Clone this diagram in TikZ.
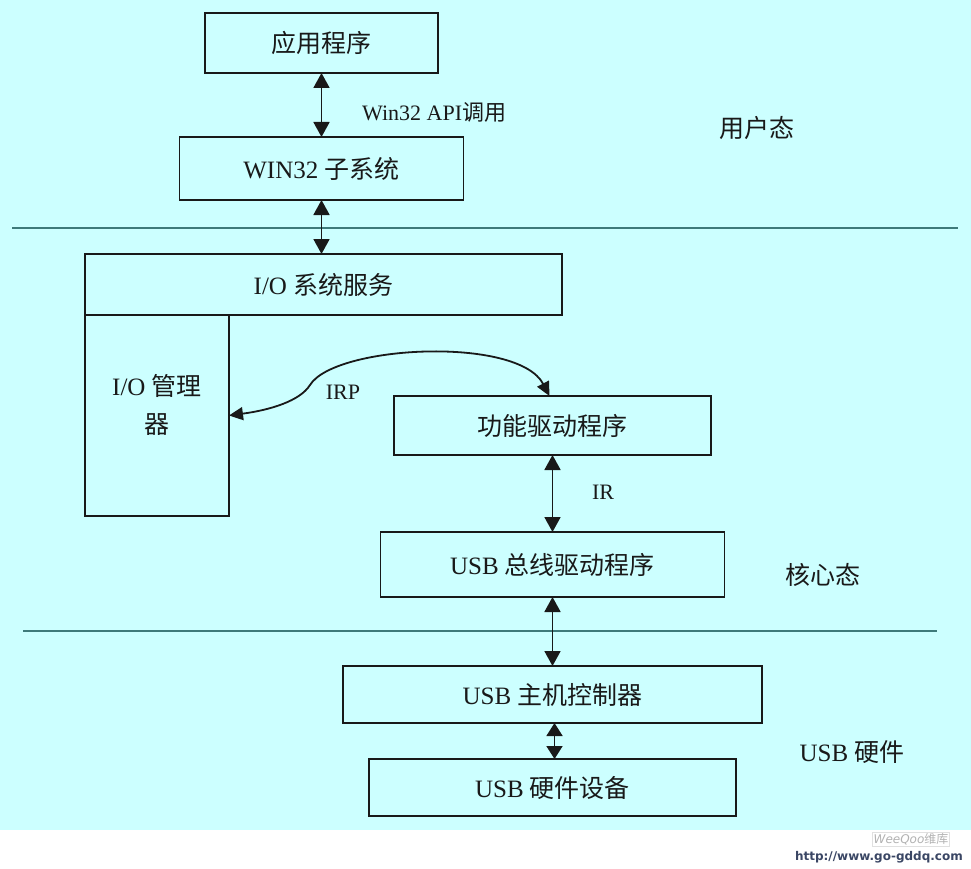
\documentclass[tikz,border=0pt]{standalone}
\usepackage{fontspec}
\setmainfont{Liberation Serif}
\newfontfamily\cjk{Noto Sans CJK SC}
\newfontfamily\wmfont{DejaVu Sans}
\usetikzlibrary{arrows.meta, positioning}
\definecolor{bgcyan}{RGB}{204,255,255}
\definecolor{sepgray}{RGB}{62,122,122}
\definecolor{urlblue}{RGB}{58,70,100}

\begin{document}
\begin{tikzpicture}[
    x=1pt, y=-1pt,
    blk/.style={rectangle, draw=black!90, line width=1.4pt, inner sep=0pt, outer sep=0pt, text=black!90, font=\fontsize{25}{38}\selectfont},
    lbl/.style={inner sep=0pt, text=black!90, font=\fontsize{22}{26}\selectfont},
    side/.style={inner sep=0pt, text=black!90, font=\fontsize{25}{30}\selectfont},
    arrow/.style={{Triangle[length=15pt,width=16pt]}-{Triangle[length=15pt,width=16pt]}, line width=1.8pt, color=black!90},
    sep/.style={line width=2.4pt, color=sepgray},
]
% page and background
\useasboundingbox (0,0) rectangle (971,869);
\fill[white] (0,0) rectangle (971,869);
\fill[bgcyan] (0,0) rectangle (971,830);

% user mode
\node[blk, minimum width=233pt, minimum height=60pt] (app) at (321.5,43) {\cjk 应用程序};
\node[blk, minimum width=284pt, minimum height=63pt, below=64pt of app] (win) {WIN32 {\cjk 子系统}};
\node[lbl, anchor=west] (apilbl) at (362,112) {Win32 API{\cjk 调用}};
\node[side] (user) at (757,128) {\cjk 用户态};
\draw[sep] (12,228) -- (958,228);

% kernel mode
\node[blk, minimum width=477pt, minimum height=61pt] (iosvc) at (323.5,284.5) {I/O {\cjk 系统服务}};
\node[blk, minimum width=144pt, minimum height=201pt, below right=0pt and 0pt of iosvc.south west,
      label={[side, align=center, font=\fontsize{25}{38}\selectfont, yshift=11pt]center:I/O {\cjk 管理}\\{\cjk 器}}] (iomgr) {};
\node[blk, minimum width=317pt, minimum height=59pt] (fdrv) at (552.5,425.5) {\cjk 功能驱动程序};
\node[blk, minimum width=344pt, minimum height=65pt, below=77pt of fdrv] (busdrv) {USB {\cjk 总线驱动程序}};
\node[lbl] (irp) at (343,392) {IRP};
\node[lbl] (ir) at (603,492) {IR};
\node[side] (kernel) at (823,575) {\cjk 核心态};
\draw[sep] (23,631) -- (937,631);

% hardware
\node[blk, minimum width=419pt, minimum height=57pt, below=69pt of busdrv] (hc) {USB {\cjk 主机控制器}};
\node[blk, minimum width=367pt, minimum height=57pt, below=36pt of hc] (dev) {USB {\cjk 硬件设备}};
\node[side] (hw) at (852,752) {USB {\cjk 硬件}};

% connectors
\draw[arrow] (app) -- (win);
\draw[arrow] (win.south) -- (win.south |- iosvc.north);
\draw[arrow] (fdrv) -- (busdrv);
\draw[arrow] (busdrv) -- (hc);
\draw[arrow, {Triangle[length=13pt,width=16pt]}-{Triangle[length=13pt,width=16pt]}] ([xshift=2pt]hc.south) -- ([xshift=2pt]hc.south |- dev.north);
\coordinate (irpin) at ([xshift=-3pt]fdrv.north);
\draw[arrow, {Triangle[length=14pt,width=13pt]}-{Triangle[length=14pt,width=13pt]}] (iomgr.east) .. controls (270,410) and (300,401) .. (310,385)
    .. controls (335,345) and (518,336) .. (irpin);

% watermark
\node[draw=black!12, inner sep=1pt, text=black!30, font=\wmfont\itshape\fontsize{12}{14}\selectfont] (wq) at (911,839) {WeeQoo{\cjk 维库}};
\node[anchor=east, inner sep=0pt, text=urlblue, font=\wmfont\bfseries\fontsize{12}{14}\selectfont] (url) at (963,857) {http://www.go-gddq.com};
\end{tikzpicture}
\end{document}
